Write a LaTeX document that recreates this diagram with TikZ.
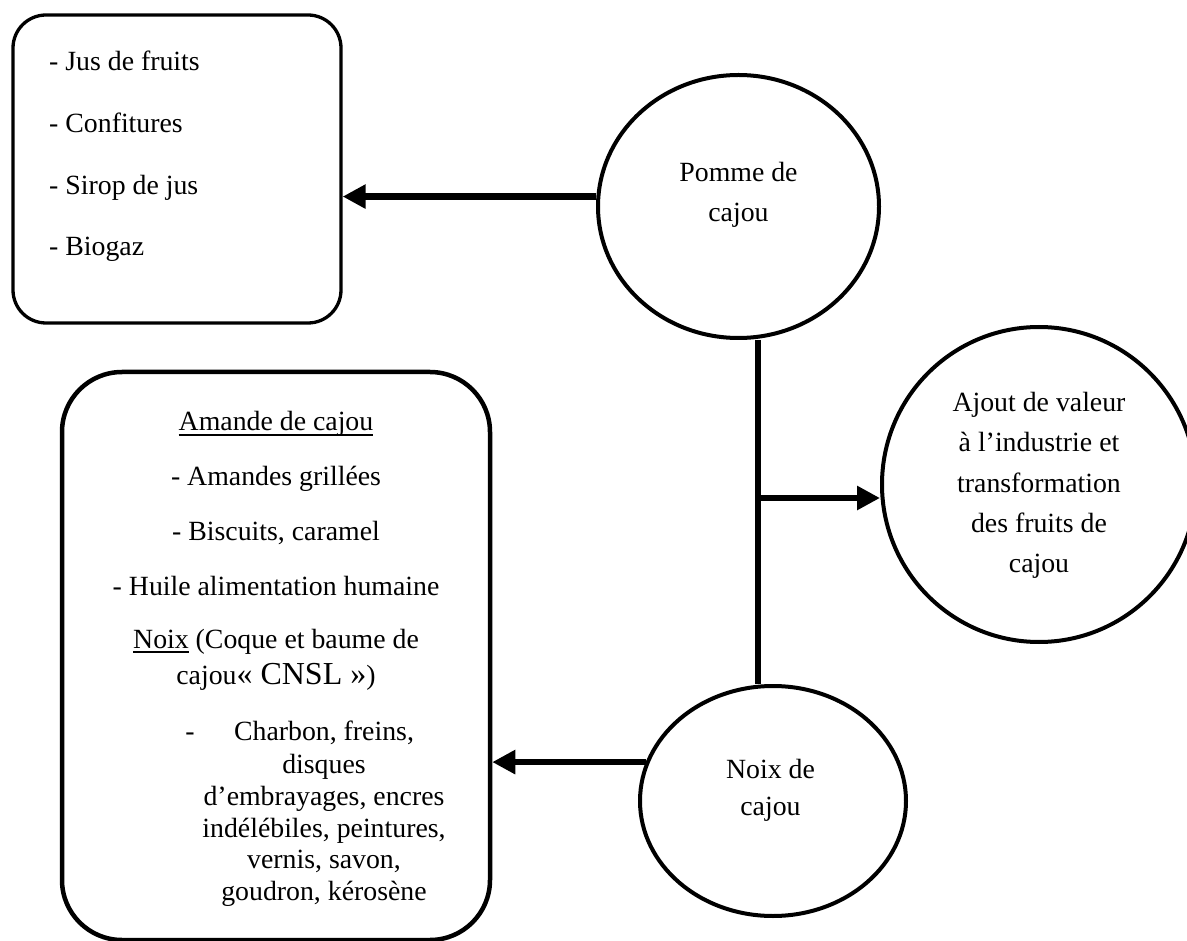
\documentclass[tikz,border=0pt]{standalone}
\usepackage{fontspec}
\setmainfont{Liberation Serif}
\usetikzlibrary{arrows.meta,shapes.geometric}
% underline sitting just below the baseline, as in a word processor
\newcommand{\ulinetext}[1]{\sbox0{#1}\rlap{\rule[-5pt]{\wd0}{1.6pt}}\usebox0}

\begin{document}
\begin{tikzpicture}[x=1pt,y=-1pt,
  lbl/.style={font=\fontsize{27.8}{33}\selectfont, inner sep=0pt, anchor=base},
  lblw/.style={lbl, anchor=base west},
  panel/.style={draw, rectangle, inner sep=0pt},
  bubble/.style={draw, ellipse, inner sep=0pt, line width=4pt},
  link/.style={line width=6pt},
  flow/.style={line width=6.5pt, -{Triangle[length=23pt,width=23pt]}}
]
\useasboundingbox (0,0) rectangle (1187,941);

% product panels
\node[panel, line width=3.3pt, rounded corners=33pt,
      minimum width=328pt, minimum height=308pt] (appleuses) at (177,169) {};
\node[panel, line width=4.5pt, rounded corners=60pt,
      minimum width=428pt, minimum height=568pt] (nutuses) at (276,656) {};

% circles
\node[bubble, minimum width=281pt, minimum height=263pt] (apple) at (738.5,206.5) {};
\node[bubble, minimum width=266pt, minimum height=230pt] (nut) at (773,801) {};
\node[bubble, minimum width=314pt, minimum height=315pt] (value) at (1039,484.5) {};

% circle labels
\node[lbl] (appleA) at (738.5,182) {Pomme de};
\node[lbl] (appleB) at (738.5,222) {cajou};
\node[lbl] (nutA) at (770.5,778) {Noix de};
\node[lbl] (nutB) at (770.5,815) {cajou};
\node[lbl] (valA) at (1039,412) {Ajout de valeur};
\node[lbl] (valB) at (1039,452) {à l’industrie et};
\node[lbl] (valC) at (1039,492) {transformation};
\node[lbl] (valD) at (1039,532) {des fruits de};
\node[lbl] (valE) at (1039,572) {cajou};

% cashew apple products
\node[lblw] (juice) at (49,71) {- Jus de fruits};
\node[lblw] (jam) at (49,133) {- Confitures};
\node[lblw] (syrup) at (49,195) {- Sirop de jus};
\node[lblw] (biogas) at (49,256) {- Biogaz};

% cashew nut products
\node[lbl] (kernel) at (276,431) {\ulinetext{Amande de cajou}};
\node[lbl] (roast) at (276,485) {- Amandes grillées};
\node[lbl] (biscuit) at (276,540) {- Biscuits, caramel};
\node[lbl] (oil) at (276,595) {- Huile alimentation humaine};
\node[lbl] (shellA) at (276,648) {\ulinetext{Noix} (Coque et baume de};
\node[lbl] (shellB) at (276,684) {cajou{\fontsize{32}{36}\selectfont« CNSL »})};
\node[lbl] (dash) at (190,740) {-};
\node[lbl] (useA) at (324,740) {Charbon, freins,};
\node[lbl] (useB) at (324,773) {disques};
\node[lbl] (useC) at (324,805) {d’embrayages, encres};
\node[lbl] (useD) at (324,837) {indélébiles, peintures,};
\node[lbl] (useE) at (324,868) {vernis, savon,};
\node[lbl] (useF) at (324,900) {goudron, kérosène};

% connectors
\coordinate (spine) at (758,498);
\draw[link] (spine |- apple.south) -- (spine |- nut.north);
\draw[flow] (spine) -- (spine -| value.west);
\draw[flow] (apple.176) -- (apple.176 -| appleuses.east);
\draw[flow] (nut.163.5) -- (nut.163.5 -| nutuses.east);
\end{tikzpicture}
\end{document}
